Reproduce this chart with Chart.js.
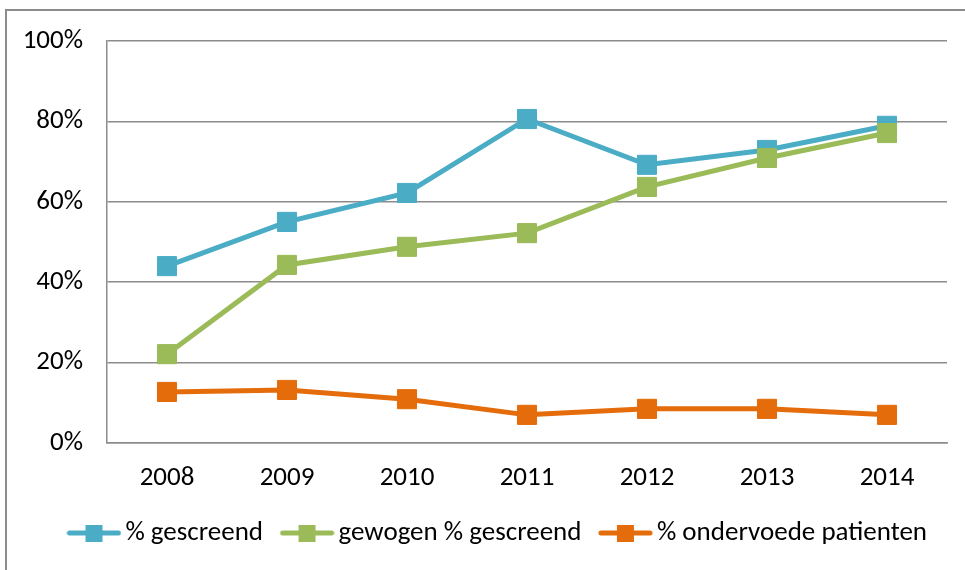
<!DOCTYPE html>
<html>
<head>
<meta charset="utf-8">
<script src="https://cdn.jsdelivr.net/npm/chart.js@4.4.1/dist/chart.umd.min.js"></script>
<style>
    html, body { margin: 0; padding: 0; background: #fff; overflow: hidden; }
    #frame {
        position: absolute; left: 5px; top: 9px; width: 1100px; height: 700px;
        border: 2px solid #8c8c8c; box-sizing: border-box;
    }
    #wrap { position: absolute; left: 0; top: 0; width: 965px; height: 570px; }
</style>
</head>
<body>
<div id="frame"></div>
<div id="wrap"><canvas id="chartLine_screening" width="965" height="570"></canvas></div>
<script>
// Jaren
var years = ['2008', '2009', '2010', '2011', '2012', '2013', '2014'];

// Percentages
var gescreend = [44.0, 55.0, 62.2, 80.6, 69.2, 72.9, 78.9];
var gewogenGescreend = [22.1, 44.3, 48.8, 52.2, 63.7, 70.9, 77.1];
var ondervoed = [12.7, 13.2, 10.9, 7.0, 8.5, 8.5, 7.0];

var yTicks = [0, 20, 40, 60, 80, 100];

var colors = ['#4bacc6', '#9bbb59', '#e46c0a'];
var fontFamily = "Carlito, Calibri, Lato, sans-serif";

// legenda-symbool: lijn met vierkantje
function legendMarker(color) {
    var c = document.createElement('canvas');
    c.width = 55;
    c.height = 20;
    var ctx = c.getContext('2d');
    ctx.strokeStyle = color;
    ctx.lineWidth = 5;
    ctx.lineCap = 'round';
    ctx.beginPath();
    ctx.moveTo(3, 10);
    ctx.lineTo(52, 10);
    ctx.stroke();
    ctx.fillStyle = color;
    ctx.fillRect(19, 2, 17, 17);
    return c;
}

function makeSet(label, data, i, order) {
    return {
        label: label,
        data: data,
        borderColor: colors[i],
        backgroundColor: colors[i],
        borderWidth: 5,
        pointStyle: 'rect',
        pointRadius: 13.5,
        pointHoverRadius: 13.5,
        pointBorderWidth: 1,
        pointBorderColor: colors[i],
        pointBackgroundColor: colors[i],
        tension: 0,
        order: order
    };
}

// legenda iets naar rechts schuiven (zoals in het origineel)
var legendShift = {
    id: 'legendShift',
    afterLayout: function (chart) {
        chart.legend.left += 28;
        chart.legend.right += 28;
    }
};

chartLine_screening_id = document.getElementById('chartLine_screening');

chartLine_screening = new Chart(chartLine_screening_id, {
    type: 'line',
    data: {
        labels: years,
        datasets: [
            makeSet('% gescreend', gescreend, 0, 3),
            makeSet('gewogen % gescreend', gewogenGescreend, 1, 2),
            makeSet('% ondervoede patienten', ondervoed, 2, 1)
        ]
    },
    plugins: [legendShift],
    options: {
        responsive: false,
        animation: false,
        layout: { padding: { left: 0, right: 18, top: 41, bottom: 13.5 } },
        plugins: {
            tooltip: { enabled: false },
            legend: {
                position: 'bottom',
                labels: {
                    usePointStyle: true,
                    pointStyleWidth: 36,
                    padding: 26,
                    color: '#000',
                    font: { family: fontFamily, size: 27 },
                    sort: function (a, b) { return a.datasetIndex - b.datasetIndex; },
                    generateLabels: function (chart) {
                        return chart.data.datasets.map(function (ds, i) {
                            return {
                                text: ds.label,
                                datasetIndex: i,
                                pointStyle: legendMarker(colors[i]),
                                fillStyle: colors[i],
                                strokeStyle: colors[i],
                                lineWidth: 0,
                                hidden: false
                            };
                        });
                    }
                }
            }
        },
        scales: {
            x: {
                offset: true,
                grid: { display: false, drawTicks: false },
                border: { display: true, color: '#8c8c8c', width: 1.5 },
                ticks: { padding: 19, color: '#000', font: { family: fontFamily, size: 27 } },
                afterFit: function (scale) { scale.height = 50.5; }
            },
            y: {
                min: 0,
                max: 100,
                grid: { color: '#8c8c8c', lineWidth: 1.5, drawTicks: false },
                border: { display: true, color: '#8c8c8c', width: 1.5 },
                afterBuildTicks: function (scale) {
                    scale.ticks = yTicks.map(function (v) { return { value: v }; });
                },
                ticks: {
                    padding: 24,
                    color: '#000',
                    font: { family: fontFamily, size: 27 },
                    callback: function (v) { return v + '%'; }
                },
                afterFit: function (scale) { scale.width = 107; }
            }
        }
    }
});
</script>
</body>
</html>
